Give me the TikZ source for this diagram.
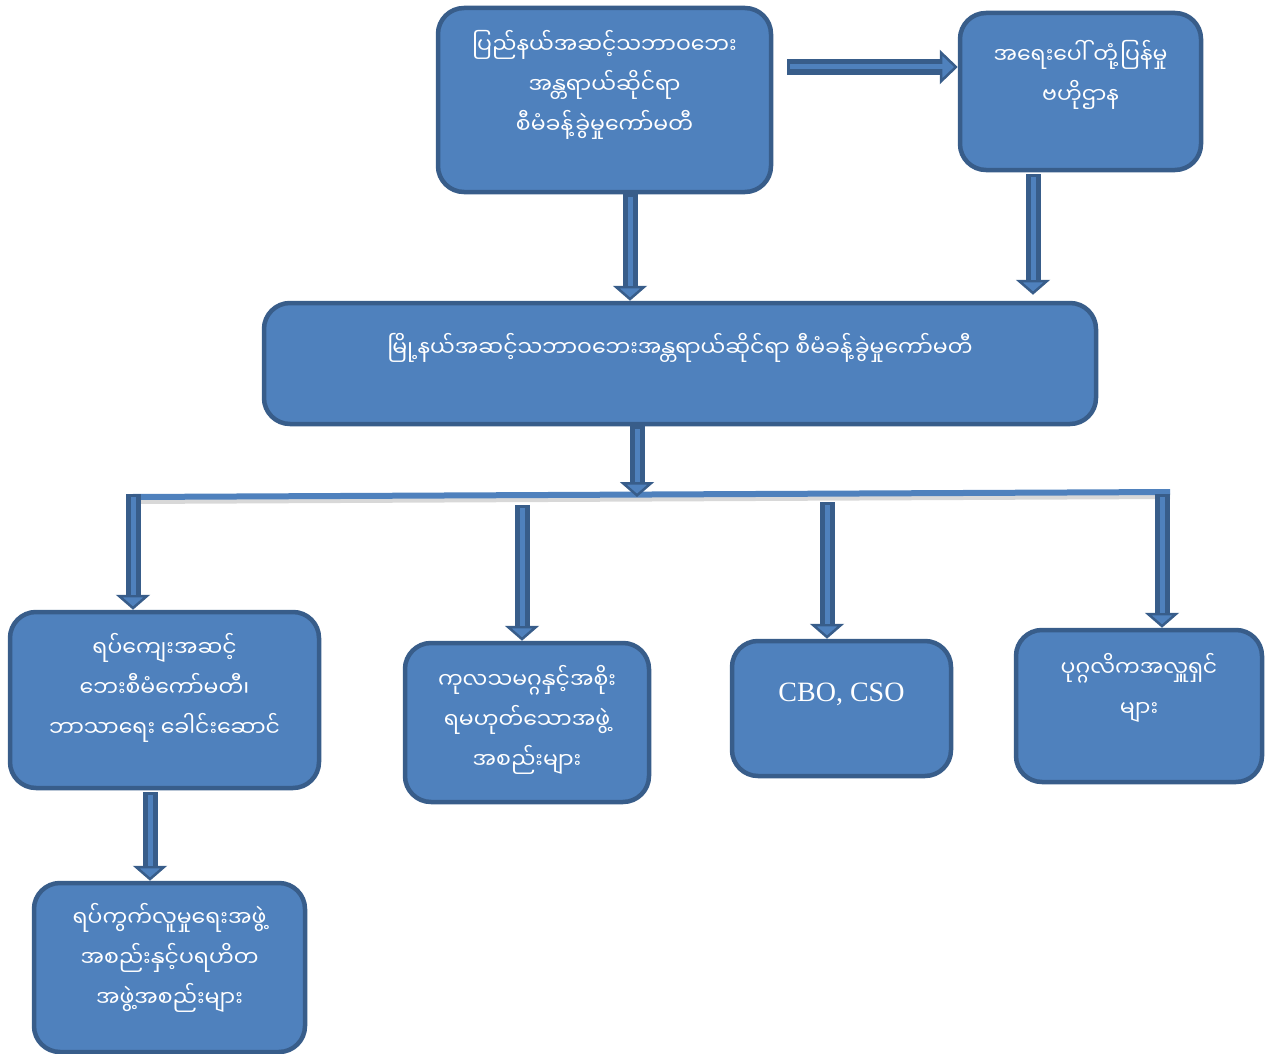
\documentclass[tikz,border=0pt]{standalone}
\usepackage{fontspec}
\newfontfamily\mmfont[Script=Myanmar]{Noto Sans Myanmar UI}
\newfontfamily\latfont{Liberation Serif}
\usetikzlibrary{arrows.meta}
\definecolor{boxfill}{HTML}{4F81BD}
\definecolor{boxline}{HTML}{385D8A}
\tikzset{
  box/.style={draw=boxline, line width=4.5pt, fill=boxfill, rounded corners=26pt},
  boxtext/.style={text=white, align=center, font=\mmfont\fontsize{22}{40}\selectfont},
  blockarrow/.style={draw=boxline, line width=15pt,
    -{Triangle[length=15pt, width=34pt, fill=boxfill, line width=2.5pt]},
    postaction={draw=boxfill, line width=5pt, -, shorten >=15pt, shorten <=3pt}},
  widearrow/.style={blockarrow, line width=16pt,
    -{Triangle[length=18pt, width=34pt, fill=boxfill, line width=2.5pt]}},
  barline/.style={draw=boxfill, line width=6pt,
    preaction={draw=black!30, opacity=.5, line width=6pt, transform canvas={yshift=-4pt}}}
}
\begin{document}
\begin{tikzpicture}[x=1pt, y=-1pt]
\useasboundingbox (0,0) rectangle (1269,1054);
% boxes
\node[box, minimum width=333, minimum height=184] (top) at (604.5,100) {};
\node[box, minimum width=241, minimum height=157] (resp) at (1080.5,91.5) {};
\node[box, minimum width=832, minimum height=121] (mid) at (680,363.5) {};
\node[box, minimum width=309, minimum height=176] (ward) at (164.5,700) {};
\node[box, minimum width=244, minimum height=159] (un) at (527,722.5) {};
\node[box, minimum width=219, minimum height=135] (cbo) at (841.5,708.5) {};
\node[box, minimum width=246, minimum height=152] (priv) at (1139,706) {};
\node[box, minimum width=271, minimum height=169] (social) at (169.5,967.5) {};
% texts
\node[boxtext] (topt) at (604.5,85) {ပြည်နယ်အဆင့်သဘာဝဘေး\\အန္တရာယ်ဆိုင်ရာ\\စီမံခန့်ခွဲမှုကော်မတီ};
\node[boxtext] (respt) at (1080.5,75) {အရေးပေါ် တုံ့ပြန်မှု\\ဗဟိုဌာန};
\node[boxtext] (midt) at (680,348) {မြို့နယ်အဆင့်သဘာဝဘေးအန္တရာယ်ဆိုင်ရာ စီမံခန့်ခွဲမှုကော်မတီ};
\node[boxtext] (wardt) at (164.5,688) {ရပ်ကျေးအဆင့်\\ဘေးစီမံကော်မတီ၊\\ဘာသာရေး ခေါင်းဆောင်};
\node[boxtext] (unt) at (527,720) {ကုလသမဂ္ဂနှင့်အစိုး\\ရမဟုတ်သောအဖွဲ့\\အစည်းများ};
\node[boxtext, font=\latfont\fontsize{28}{34}\selectfont] (cbot) at (841.5,694) {CBO, CSO};
\node[boxtext] (privt) at (1139,688) {ပုဂ္ဂလိကအလှူရှင်\\များ};
\node[boxtext] (socialt) at (169.5,958) {ရပ်ကွက်လူမှုရေးအဖွဲ့\\အစည်းနှင့်ပရဟိတ\\အဖွဲ့အစည်းများ};
% bar
\coordinate (barl) at (132,497);
\coordinate (barr) at (1170,492);
\draw[barline] (barl) -- (barr);
\coordinate (b0) at (637,426);
\coordinate (b1) at (133,494);
\coordinate (b2) at (522,505);
\coordinate (b3) at (827,502);
\coordinate (b4) at (1162,494);
% arrows
\path ([shift={(14,-33)}]top.east) coordinate (t0);
\draw[widearrow] (t0) -- (t0 -| resp.west);
\path ([xshift=25.5pt]top.south) coordinate (t1);
\draw[blockarrow] (t1) -- (t1 |- mid.north);
\path ([xshift=-47.5pt, yshift=-2pt]resp.south) coordinate (t2);
\draw[blockarrow] (t2) -- ([yshift=6pt]t2 |- mid.north);
\draw[blockarrow] (b0) -- (b0 |- barl);
\draw[blockarrow] (b1) -- (b1 |- ward.north);
\draw[blockarrow] (b2) -- (b2 |- un.north);
\draw[blockarrow] (b3) -- (b3 |- cbo.north);
\draw[blockarrow] (b4) -- (b4 |- priv.north);
\path ([xshift=-14.5pt, yshift=-2pt]ward.south) coordinate (t3);
\draw[blockarrow] (t3) -- (t3 |- social.north);
\end{tikzpicture}
\end{document}
